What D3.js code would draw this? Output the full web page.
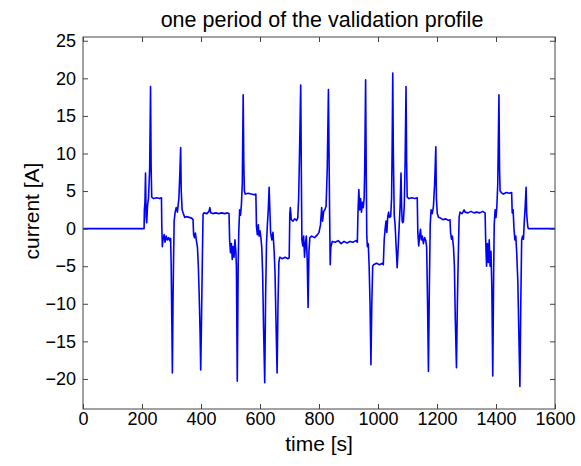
<!DOCTYPE html>
<html>
<head>
<meta charset="utf-8">
<script src="https://cdn.jsdelivr.net/npm/d3@7"></script>
<style>
  body { margin: 0; background: #fff; }
  svg { display: block; }
  text { font-family: "Liberation Sans", Arial, sans-serif; fill: #000; }
</style>
</head>
<body>
<div id="chart"></div>
<script>
// one period of the validation profile
const timeS = [
  0, 207, 208, 210, 212, 214, 216, 219, 222, 226, 229, 231, 233, 240, 250, 260, 266,
  267, 269, 271, 275, 278, 282, 286, 290, 294, 297, 299, 301, 303, 305, 307, 309,
  312, 316, 320, 325, 328, 331, 333, 336, 340, 345, 350, 360, 368, 373,
  375, 378, 381, 384, 388, 391, 394, 397, 399, 401, 403, 405, 407, 410, 420, 427,
  430, 433, 440, 450, 460, 470, 480, 490, 495,
  497, 500, 503, 506, 509, 512, 515, 518, 520, 523, 526, 528, 531, 534, 537, 540,
  543, 545, 547, 550, 560, 570, 580, 586,
  588, 591, 594, 597, 600, 603, 606, 609, 612, 616, 619, 622, 625, 628, 631, 633,
  636, 640, 644, 648, 651, 654, 658, 661, 664, 667, 675, 685, 695, 699,
  701, 703, 706, 712, 718, 724, 728, 731, 734, 738, 740, 742, 745, 748, 751, 754,
  757, 760, 763, 766, 769, 775, 785, 795, 800, 805, 809, 812, 816, 820, 824, 828,
  832, 834, 836, 838, 840, 845, 855, 865, 875, 885, 895, 905, 915, 925, 930,
  932, 935, 938, 941, 944, 947, 950, 953, 955, 958, 960, 962, 964, 967, 970, 973,
  976, 979, 982, 985, 995, 1005, 1015, 1018,
  1021, 1024, 1027, 1030, 1033, 1036, 1039, 1043, 1046, 1048, 1050, 1052, 1055,
  1058, 1061, 1065, 1069, 1072, 1075, 1078, 1080, 1082, 1084, 1086, 1089, 1092,
  1095, 1097, 1099, 1105, 1115, 1125, 1133,
  1135, 1138, 1141, 1144, 1147, 1150, 1154, 1158, 1162, 1165, 1168, 1171, 1174,
  1177, 1180, 1184, 1188, 1192, 1196, 1198, 1201, 1205, 1212, 1220, 1230, 1238, 1244,
  1246, 1249, 1252, 1256, 1259, 1262, 1266, 1269, 1272, 1275, 1278, 1285, 1292,
  1295, 1305, 1315, 1325, 1335, 1345, 1355, 1363,
  1365, 1368, 1371, 1374, 1377, 1380, 1383, 1386, 1389, 1392, 1394, 1397, 1400,
  1403, 1406, 1410, 1412, 1414, 1418, 1425, 1435, 1445, 1453,
  1455, 1458, 1461, 1464, 1467, 1470, 1474, 1478, 1481, 1484, 1487, 1490, 1493,
  1496, 1499, 1502, 1504, 1506, 1508, 1510, 1600
];
const currentA = [
  0, 0, 2.5, 3.5, 7.4, 1.5, 0.8, 3.2, 4.0, 8, 18.9, 8, 4.2, 4.0, 4.1, 4.0, 4.1,
  0.5, -2.4, -1.5, -0.8, -1.8, -1.0, -1.5, -1.2, -1.6, -1.3, -5, -12, -19.2, -10, -4, 1.0,
  2.1, 2.8, 2.2, 4, 7, 10.8, 5, 2.5, 2.0, 1.5, 1.6, 1.5, 1.4, 1.2,
  -0.8, -1.2, -0.6, -1.5, -2.5, -5, -9, -14, -18.8, -14, -8.5, -3, 1.9, 2.1, 2.0, 2.3,
  2.8, 2.1, 2.0, 2.1, 2.0, 2.1, 2.0, 2.1, 2.0,
  -1.5, -3.2, -2.0, -4.1, -2.4, -3.8, -1.5, -3.0, -5, -20.3, -5, -0.5, 2.5, 1.8, 3.2, 6,
  17.8, 9, 5.0, 4.6, 4.7, 4.6, 4.5, 4.6,
  0.3, -0.8, 0.5, -1.0, -0.3, -1.2, -2.5, -6, -13, -20.5, -9, -2, 0.5, 2.5, 5.5, 3,
  -0.5, -1.5, -0.5, -3, -6, -12, -19.2, -10, -4.5, -3.8, -4.0, -3.8, -4.0, -3.9,
  2.0, 2.8, 1.2, 1.0, 1.3, 1.1, 1.4, 4, 10, 19.1, 8, -1.5, -2.3, -1.0, -3.8, -2.0,
  -1.0, -4, -10.5, -3, -1.2, -1.0, -1.2, -0.8, -0.5, 0.5, 2.8, 1.0, 2.3, 2.5, 3, 8,
  18.5, 10, 2, -4.8, -2.5, -1.7, -1.8, -1.6, -2.0, -1.7, -1.9, -1.7, -1.8, -1.6, -1.8,
  2.0, 5.2, 2.5, 4.0, 2.2, 3.5, 2.8, 4.0, 8, 19.8, 8, -1, -2.4, -2.0, -5, -10,
  -18.1, -10, -5.0, -4.8, -4.6, -4.8, -4.6, -4.8,
  -1.5, -0.1, 1.0, -0.5, 1.6, 2.2, 1.5, 1.6, 4, 11, 20.7, 10, 1.8,
  0.5, -2, -5.2, -2, 0.5, 3, 7.4, 3, 1.0, 0.8, 0.9, 3, 9,
  18.9, 9, 4.2, 4.0, 4.1, 4.0, 4.1,
  -0.5, -2.3, -1.0, -0.1, -1.5, -1.0, -2.0, -1.2, -1.6, -2.5, -10, -19, -8,
  0.5, 2.5, 2.0, 3.0, 6, 10.9, 4, 2.0, 1.5, 1.4, 1.2, 1.3, 1.1, 1.2,
  -0.5, -1.4, -1.0, -2.5, -5, -12, -18.5, -10, -4, 1.5, 2.2, 2.0, 2.5,
  2.2, 2.1, 2.3, 2.1, 2.2, 2.1, 2.3, 2.1,
  -1.5, -5, -2.0, -4.5, -1.5, -5, -3, -8, -19.6, -6, 0.5, 2.5, 1.5,
  3.0, 6, 17.8, 8, 5.0, 4.8, 4.6, 4.8, 4.7, 4.8,
  2.1, 2.5, 0, -1.5, -1.0, -3, -7, -15, -21, -10, -1.5, -1.0, -1.4,
  1, 3, 5.5, 2, 1, 0.2, 0, 0
];
const xTicks = [0, 200, 400, 600, 800, 1000, 1200, 1400, 1600];
const yTicks = [-20, -15, -10, -5, 0, 5, 10, 15, 20, 25];

const width = 581, height = 466;
const margin = { top: 37, right: 26, bottom: 57, left: 83 };
const innerW = width - margin.left - margin.right;
const innerH = height - margin.top - margin.bottom;

const svg = d3.select('#chart')
  .append('svg')
  .attr('width', width)
  .attr('height', height);

const x = d3.scaleLinear().domain([0, 1600]).range([margin.left, margin.left + innerW]);
const y = d3.scaleLinear().domain([-24, 25.5]).range([margin.top + innerH, margin.top]);

const axisColor = '#444';
const tickLen = 5;

// the signal
const points = timeS.map((t, i) => [t, currentA[i]]);
const line = d3.line().x(d => x(d[0])).y(d => y(d[1]));
svg.append('path')
  .datum(points)
  .attr('d', line)
  .style('fill', 'none')
  .style('stroke', '#0000ff')
  .style('stroke-width', 1.6)
  .style('stroke-linejoin', 'round');

// axes: matlab style, ticks inside on all four sides
const bottomAxis = d3.axisBottom(x).tickValues(xTicks).tickSizeInner(-tickLen).tickSizeOuter(0).tickPadding(3)
  .tickFormat(d3.format('d'));
const topAxis = d3.axisTop(x).tickValues(xTicks).tickSizeInner(-tickLen).tickSizeOuter(0).tickFormat('');
const leftAxis = d3.axisLeft(y).tickValues(yTicks).tickSizeInner(-tickLen).tickSizeOuter(0).tickPadding(7)
  .tickFormat(d => d < 0 ? '\u2212' + Math.abs(d) : d);
const rightAxis = d3.axisRight(y).tickValues(yTicks).tickSizeInner(-tickLen).tickSizeOuter(0).tickFormat('');

function styleAxis(g) {
  g.select('.domain').remove();
  g.selectAll('line').style('stroke', axisColor);
  g.selectAll('text').style('font-size', '18px').style('fill', '#000')
    .style('font-family', '"Liberation Sans", Arial, sans-serif');
}

svg.append('g').attr('transform', `translate(0,${margin.top + innerH})`).call(bottomAxis).call(styleAxis);
svg.append('g').attr('transform', `translate(0,${margin.top})`).call(topAxis).call(styleAxis);
svg.append('g').attr('transform', `translate(${margin.left},0)`).call(leftAxis).call(styleAxis);
svg.append('g').attr('transform', `translate(${margin.left + innerW},0)`).call(rightAxis).call(styleAxis);

// box
svg.append('rect')
  .attr('x', margin.left)
  .attr('y', margin.top)
  .attr('width', innerW)
  .attr('height', innerH)
  .style('fill', 'none')
  .style('stroke', axisColor)
  .style('stroke-width', 1);

// title and labels
svg.append('text')
  .attr('x', margin.left + innerW / 2 + 3)
  .attr('y', 27)
  .attr('text-anchor', 'middle')
  .style('font-size', '21.5px')
  .text('one period of the validation profile');

svg.append('text')
  .attr('x', margin.left + innerW / 2)
  .attr('y', 451)
  .attr('text-anchor', 'middle')
  .style('font-size', '21px')
  .text('time [s]');

svg.append('text')
  .attr('transform', `translate(39,211) rotate(-90)`)
  .attr('text-anchor', 'middle')
  .style('font-size', '21px')
  .text('current [A]');
</script>
</body>
</html>
